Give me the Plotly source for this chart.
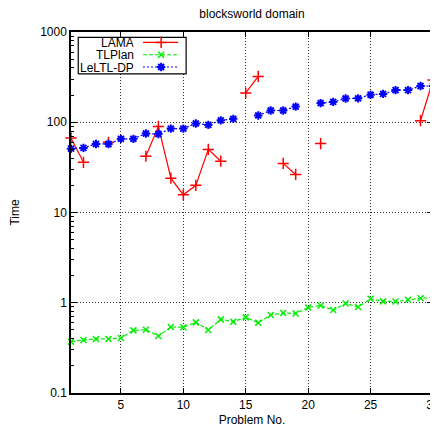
import plotly.graph_objects as go

problems = list(range(1, 31))
lama = [67, 36, None, 60, None, None, 42, 90, 24, 15.7, 20, 50, 37, None, 211,
        322, None, 35, 26.4, None, 58, None, None, None, None, None, None, None, 104, 293]
tlplan = [0.37, 0.387, 0.397, 0.397, 0.407, 0.494, 0.503, 0.428, 0.539, 0.535,
          0.606, 0.50, 0.654, 0.617, 0.689, 0.601, 0.731, 0.769, 0.76, 0.887,
          0.934, 0.83, 0.98, 0.896, 1.107, 1.035, 1.03, 1.08, 1.12, 1.15]
leltl = [51, 52, 57.5, 57.5, 65.5, 65.5, 75, 74, 85, 85, 97, 93.5, 105, 109, None,
         119, 135, 135, 149, None, 163, 168, 183, 184, 202, 206, 227, 227, 252, 252]
series_names = ["LAMA", "TLPlan", "LeLTL-DP"]
y_ticks = [0.1, 1, 10, 100, 1000]
y_tick_labels = ["0.1", "1", "10", "100", "1000"]
x_ticks = [5, 10, 15, 20, 25, 30]

RED, GREEN, BLUE = "#ff0000", "#00ee00", "#0000ff"
FONT = "Liberation Sans, Arial, sans-serif"

styles = [
    dict(color=RED, dash="solid", symbol="cross-thin", size=8, lw=1.5),
    dict(color=GREEN, dash="4px,2px", symbol="x-thin", size=6, lw=1.5),
    dict(color=BLUE, dash="2px,2px", symbol="asterisk", size=7, lw=2.0),
]

fig = go.Figure()
for name, vals, st in zip(series_names, [lama, tlplan, leltl], styles):
    fig.add_trace(go.Scatter(
        x=problems, y=vals, name=name, mode="lines+markers",
        connectgaps=False, cliponaxis=False,
        line=dict(color=st["color"], dash=st["dash"], width=1.2),
        marker=dict(symbol=st["symbol"], size=st["size"],
                    color=st["color"], line=dict(width=st["lw"], color=st["color"])),
        showlegend=False,
    ))

# custom legend (gnuplot style: text left, sample right) on an overlay axis
bx0, bx1, by0, by1 = 0.020, 0.318, 0.884, 0.985
fig.add_trace(go.Scatter(
    x=[bx0, bx1, bx1, bx0, bx0], y=[by0, by0, by1, by1, by0],
    xaxis="x2", yaxis="y2", mode="lines", fill="toself",
    fillcolor="white", line=dict(color="black", width=1.2),
    showlegend=False, hoverinfo="skip"))
rows = [0.971, 0.937, 0.903]
for name, st, ry in zip(series_names, styles, rows):
    fig.add_trace(go.Scatter(
        x=[0.199, 0.249, 0.296], y=[ry, ry, ry], xaxis="x2", yaxis="y2",
        mode="lines", line=dict(color=st["color"], dash=st["dash"], width=1.2),
        showlegend=False, hoverinfo="skip"))
    fig.add_trace(go.Scatter(
        x=[0.249], y=[ry], xaxis="x2", yaxis="y2", mode="markers",
        marker=dict(symbol=st["symbol"], size=st["size"], color=st["color"],
                    line=dict(width=st["lw"], color=st["color"])),
        showlegend=False, hoverinfo="skip"))
    fig.add_annotation(x=0.177, y=ry, xref="paper", yref="paper", text=name,
                       showarrow=False, xanchor="right", yanchor="middle",
                       height=11, borderpad=0,
                       font=dict(family=FONT, size=12, color="black"))

minor_vals = [m * 10 ** e for e in range(-1, 3) for m in range(2, 10)]

W, H = 438, 423  # page body adds an 8px offset; right part falls outside the view
fig.update_layout(
    width=W, height=H,
    margin=dict(l=63, r=W - 425, t=24, b=38, autoexpand=False),
    paper_bgcolor="white", plot_bgcolor="white",
    font=dict(family=FONT, size=12, color="black"),
    title=dict(text="blocksworld domain", x=(63 + 425) / 2 / W, xanchor="center",
               y=1 - 5.5 / H, yanchor="middle", font=dict(size=12)),
    xaxis=dict(range=[1, 30], tickmode="array", tickvals=x_ticks,
               ticks="inside", ticklen=5, tickcolor="black",
               showline=True, linecolor="black", linewidth=1.5, mirror="allticks",
               showgrid=True, gridcolor="#333333", griddash="1px,2px", gridwidth=1,
               zeroline=False, tickfont=dict(size=12),
               title=dict(text="Problem No.", font=dict(size=12), standoff=4)),
    yaxis=dict(type="log", range=[-1, 3], tickmode="array", tickvals=y_ticks,
               ticktext=y_tick_labels, ticks="inside", ticklen=6, tickcolor="black",
               showline=True, linecolor="black", linewidth=1.5, mirror="allticks",
               showgrid=True, gridcolor="#333333", griddash="1px,2px", gridwidth=1,
               zeroline=False, tickfont=dict(size=12),
               minor=dict(tickmode="array", tickvals=minor_vals, ticks="inside",
                          ticklen=3, tickcolor="black", showgrid=False),
               title=dict(text="Time", font=dict(size=12), standoff=20)),
    xaxis2=dict(overlaying="x", range=[0, 1], visible=False, anchor="y2"),
    yaxis2=dict(overlaying="y", range=[0, 1], visible=False, anchor="x2"),
)

fig.write_html("out.html")
